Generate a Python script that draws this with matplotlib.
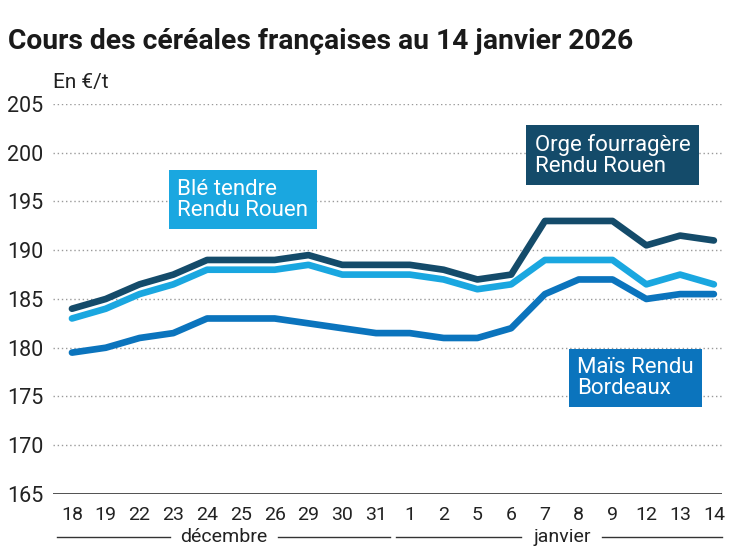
import matplotlib.pyplot as plt
import matplotlib.transforms as mtransforms

# data
jours = ["18", "19", "22", "23", "24", "25", "26", "29", "30", "31",
         "1", "2", "5", "6", "7", "8", "9", "12", "13", "14"]
orge = [184, 185, 186.5, 187.5, 189, 189, 189, 189.5, 188.5, 188.5,
        188.5, 188, 187, 187.5, 193, 193, 193, 190.5, 191.5, 191]
ble = [183, 184, 185.5, 186.5, 188, 188, 188, 188.5, 187.5, 187.5,
       187.5, 187, 186, 186.5, 189, 189, 189, 186.5, 187.5, 186.5]
mais = [179.5, 180, 181, 181.5, 183, 183, 183, 182.5, 182, 181.5,
        181.5, 181, 181, 182, 185.5, 187, 187, 185, 185.5, 185.5]
mois = ["décembre", "janvier"]
yticks = [165, 170, 175, 180, 185, 190, 195, 200, 205]

c_orge = "#144b6a"
c_ble = "#1aa7e0"
c_mais = "#0b74bd"

plt.rcParams['font.family'] = ['Roboto', 'DejaVu Sans']

fig = plt.figure(figsize=(7.47, 5.58), dpi=100)
ax = fig.add_axes([0.071, 0.1147, 0.8955, 0.699])

x = list(range(len(jours)))
ax.plot(x, mais, color=c_mais, lw=4.8, solid_capstyle='round', zorder=3)
ax.plot(x, ble, color=c_ble, lw=4.8, solid_capstyle='round', zorder=4)
ax.plot(x, orge, color=c_orge, lw=4.8, solid_capstyle='round', zorder=5)

ax.set_xlim(-0.56, 19.24)
ax.set_ylim(165, 205)
ax.set_yticks(yticks)
ax.set_xticks(x)
ax.set_xticklabels(jours)
for v in yticks[1:]:
    ax.axhline(v, color="#9a9a9a", lw=1, ls=(0, (1, 2)), zorder=1)
ax.axhline(165, color="#333333", lw=1.2, zorder=2)

for s in ax.spines.values():
    s.set_visible(False)
ax.tick_params(length=0, colors="#222222")
ax.tick_params(axis='y', pad=7, labelsize=15.5)
ax.tick_params(axis='x', pad=9, labelsize=14)

# series labels
box = dict(boxstyle='square,pad=0.38', lw=0)
ax.text(3.12, 195.2, "Blé tendre\nRendu Rouen", color="white", fontsize=16,
        va='center', ha='left', linespacing=1.0, bbox=dict(box, fc=c_ble), zorder=6)
ax.text(13.7, 199.75, "Orge fourragère\nRendu Rouen", color="white", fontsize=16,
        va='center', ha='left', linespacing=1.0, bbox=dict(box, fc=c_orge), zorder=6)
ax.text(14.95, 176.9, "Maïs Rendu\nBordeaux", color="white", fontsize=16,
        va='center', ha='left', linespacing=1.0, bbox=dict(box, fc=c_mais), zorder=6)

# month groups below the axis
trans = mtransforms.blended_transform_factory(ax.transData, ax.transAxes)
ym = -0.11
groups = [(-0.45, 9.4, 4.5), (9.6, 19.24, 14.5)]
for (a, b, mid), nom in zip(groups, mois):
    ax.text(mid, ym, nom, transform=trans, ha='center', va='center',
            fontsize=14, color="#222222")
    half = 1.6 if nom == "décembre" else 1.2
    ax.plot([a, mid - half], [ym, ym], transform=trans, color="#333333",
            lw=1, clip_on=False)
    ax.plot([mid + half, b], [ym, ym], transform=trans, color="#333333",
            lw=1, clip_on=False)

fig.text(0.011, 0.925, "Cours des céréales françaises au 14 janvier 2026",
         fontsize=20.3, fontweight='bold', color="#1a1a1a", va='center')
fig.text(0.071, 0.853, "En €/t", fontsize=15, color="#222222", va='center')

fig.savefig("out.png", dpi=100)
